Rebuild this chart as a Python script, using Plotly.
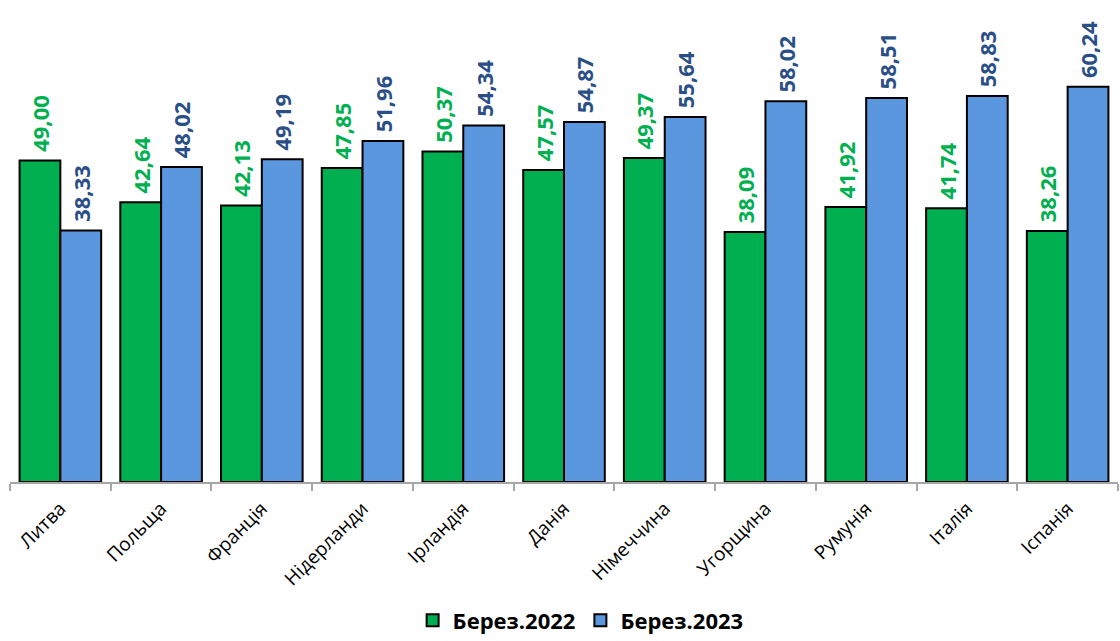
import plotly.graph_objects as go

categories = ["Литва", "Польща", "Франція", "Нідерланди", "Ірландія", "Данія",
              "Німеччина", "Угорщина", "Румунія", "Італія", "Іспанія"]
mar2022 = [49.00, 42.64, 42.13, 47.85, 50.37, 47.57, 49.37, 38.09, 41.92, 41.74, 38.26]
mar2023 = [38.33, 48.02, 49.19, 51.96, 54.34, 54.87, 55.64, 58.02, 58.51, 58.83, 60.24]
series_names = ["Берез.2022", "Берез.2023"]

def fmt(v):
    return "\u00a0" + f"{v:.2f}".replace(".", ",")

fig = go.Figure()
fig.add_trace(go.Bar(
    x=categories, y=mar2022, name=series_names[0],
    marker=dict(color="#00B050", line=dict(color="#000000", width=2)),
    text=[fmt(v) for v in mar2022], textposition="outside", textangle=-90,
    constraintext="none",
    textfont=dict(family="Open Sans", size=22, color="#00B050", weight="bold"),
    cliponaxis=False,
))
fig.add_trace(go.Bar(
    x=categories, y=mar2023, name=series_names[1],
    marker=dict(color="#5B97DF", line=dict(color="#000000", width=2)),
    text=[fmt(v) for v in mar2023], textposition="outside", textangle=-90,
    constraintext="none",
    textfont=dict(family="Open Sans", size=22, color="#2A4F86", weight="bold"),
    cliponaxis=False,
))

fig.update_layout(
    width=1120, height=641,
    margin=dict(l=10, r=2, t=5, b=159, autoexpand=False),
    paper_bgcolor="white", plot_bgcolor="white",
    barmode="group", bargap=0.19, bargroupgap=0,
    showlegend=True,
    legend=dict(orientation="h", x=0.515, xanchor="center", y=-0.29, yanchor="middle",
                font=dict(family="Open Sans", size=22, color="#000000", weight="bold"),
                itemwidth=30, traceorder="normal"),
    xaxis=dict(
        automargin=False,
        tickangle=-45, tickfont=dict(family="Open Sans", size=19, color="#000000"),
        ticklabelstandoff=6,
        showline=True, linecolor="#A6A6A6", linewidth=2,
        ticks="outside", tickson="boundaries", ticklen=7, tickcolor="#A6A6A6", tickwidth=2,
        showgrid=False,
    ),
    yaxis=dict(range=[0, 72.7], visible=False, showgrid=False, zeroline=False,
               automargin=False),
)

fig.write_html("out.html", config={"displayModeBar": False},
               post_script="document.body.style.margin='0';document.body.style.overflow='hidden';")
